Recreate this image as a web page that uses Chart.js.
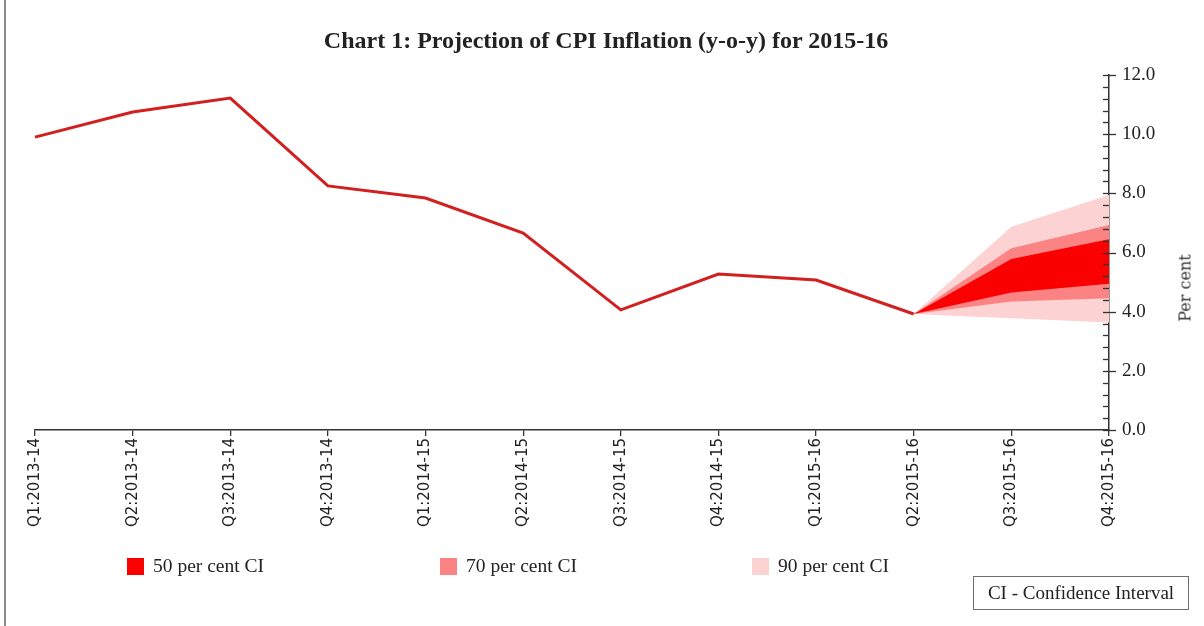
<!DOCTYPE html>
<html>
<head>
<meta charset="utf-8">
<script src="https://cdn.jsdelivr.net/npm/chart.js@4/dist/chart.umd.min.js"></script>
<style>
  html, body { margin: 0; padding: 0; background: #fff; }
  #wrap { position: relative; width: 1204px; height: 626px; overflow: hidden; }
  #frame { position: absolute; left: 4px; top: 0; width: 0; height: 626px; border-left: 2px solid #8a8a8a; }
  canvas { position: absolute; left: 0; top: 0; }
  .serif { font-family: "Liberation Serif", "DejaVu Serif", serif; color: #222; }
  #title { position: absolute; left: 606px; top: 40px; transform: translate(-50%, -50%); font-size: 24px; font-weight: bold; white-space: nowrap; }
  #percent { position: absolute; left: 1185px; top: 288px; transform: translate(-50%, -50%) rotate(-90deg); font-family: "DejaVu Serif", serif; font-size: 16px; color: #333; white-space: nowrap; }
  #legend { position: absolute; top: 555px; left: 0; width: 1204px; height: 26px; }
  .item { position: absolute; top: 0; display: flex; align-items: center; font-size: 19.5px; white-space: nowrap; }
  .box { width: 17px; height: 17px; margin-right: 9px; }
  #cibox { position: absolute; left: 973px; top: 576px; width: 214px; height: 32px; border: 1.5px solid #6e6e6e; font-size: 19px; text-align: center; line-height: 32px; }
</style>
</head>
<body>
<div id="wrap">
  <canvas id="c" width="1204" height="626"></canvas>
  <div id="frame"></div>
  <div id="title" class="serif">Chart 1: Projection of CPI Inflation (y-o-y) for 2015-16</div>
  <div id="percent">Per cent</div>
  <div id="legend" class="serif"></div>
  <div id="cibox" class="serif">CI - Confidence Interval</div>
</div>
<script>
// ---- Data ----
const quarters = ["Q1:2013-14","Q2:2013-14","Q3:2013-14","Q4:2013-14","Q1:2014-15","Q2:2014-15","Q3:2014-15","Q4:2014-15","Q1:2015-16","Q2:2015-16","Q3:2015-16","Q4:2015-16"];
const actualCPI = [9.9, 10.75, 11.22, 8.25, 7.84, 6.66, 4.06, 5.27, 5.07, 3.92, null, null];
const lower50 = [null,null,null,null,null,null,null,null,null, 3.92, 4.65, 4.94];
const upper50 = [null,null,null,null,null,null,null,null,null, 3.92, 5.78, 6.45];
const lower70 = [null,null,null,null,null,null,null,null,null, 3.92, 4.34, 4.45];
const upper70 = [null,null,null,null,null,null,null,null,null, 3.92, 6.14, 6.93];
const lower90 = [null,null,null,null,null,null,null,null,null, 3.92, 3.78, 3.63];
const upper90 = [null,null,null,null,null,null,null,null,null, 3.92, 6.87, 7.94];
const legendLabels = ["50 per cent CI", "70 per cent CI", "90 per cent CI"];
const yTickValues = [0, 2, 4, 6, 8, 10, 12];

const C50 = "#fb0000", C70 = "#fc8383", C90 = "#fdd2d2", CLINE = "#d21f1f";

function band(data, color, fillTarget) {
  return { data, borderWidth: 0, borderColor: "rgba(0,0,0,0)", backgroundColor: color,
           pointRadius: 0, fill: fillTarget, tension: 0, spanGaps: false };
}

// tick marks on the right axis (major cross the axis, minor inside)
const axisTicks = {
  id: "axisTicks",
  afterDraw(chart) {
    const y = chart.scales.y, ctx = chart.ctx;
    const x0 = y.left;
    ctx.save();
    ctx.strokeStyle = "#333";
    ctx.lineWidth = 1.3;
    for (let i = 0; i <= 30; i++) {
      const v = i * 0.4;
      const py = Math.round(y.getPixelForValue(v)) + 0.5;
      const major = (i % 5 === 0);
      ctx.beginPath();
      ctx.moveTo(x0 - 6, py);
      ctx.lineTo(major ? x0 + 7 : x0, py);
      ctx.stroke();
    }
    ctx.restore();
  }
};

const chart = new Chart(document.getElementById("c"), {
  type: "line",
  data: {
    labels: quarters,
    datasets: [
      { label: "CPI", data: actualCPI, borderColor: CLINE, borderWidth: 3, pointRadius: 0, fill: false, tension: 0 },
      band(lower50, C50, false),
      band(upper50, C50, 1),
      band(lower70, C70, false),
      band(upper70, C70, 3),
      band(lower90, C90, false),
      band(upper90, C90, 5)
    ]
  },
  options: {
    responsive: false,
    animation: false,
    layout: { padding: { left: 35, right: 0, top: 75, bottom: 0 } },
    plugins: {
      legend: { display: false },
      tooltip: { enabled: false },
      title: { display: false }
    },
    scales: {
      x: {
        offset: false,
        grid: { drawOnChartArea: false, drawTicks: true, tickLength: 6, color: "#333", lineWidth: 1.3 },
        border: { color: "#333", width: 1.5 },
        ticks: { maxRotation: 90, minRotation: 90, autoSkip: false, padding: 2, color: "#222",
                 font: { family: "DejaVu Sans", size: 15 } },
        afterFit(s) { s.height = 196; }
      },
      y: {
        position: "right",
        min: 0, max: 12,
        grid: { drawOnChartArea: false, drawTicks: false },
        border: { color: "#333", width: 1.5 },
        afterBuildTicks(s) { s.ticks = yTickValues.map(v => ({ value: v })); },
        ticks: { padding: 13, color: "#222", font: { family: "Liberation Serif", size: 19 },
                 callback: v => Number(v).toFixed(1) },
        afterFit(s) { s.width = 95; }
      }
    }
  },
  plugins: [axisTicks]
});

// HTML legend built from the labels
const legendColors = [C50, C70, C90];
const legendX = [127, 440, 752];
const lg = document.getElementById("legend");
legendLabels.forEach((t, i) => {
  const d = document.createElement("div");
  d.className = "item";
  d.style.left = legendX[i] + "px";
  d.innerHTML = '<span class="box" style="background:' + legendColors[i] + '"></span><span>' + t + '</span>';
  lg.appendChild(d);
});
</script>
</body>
</html>
